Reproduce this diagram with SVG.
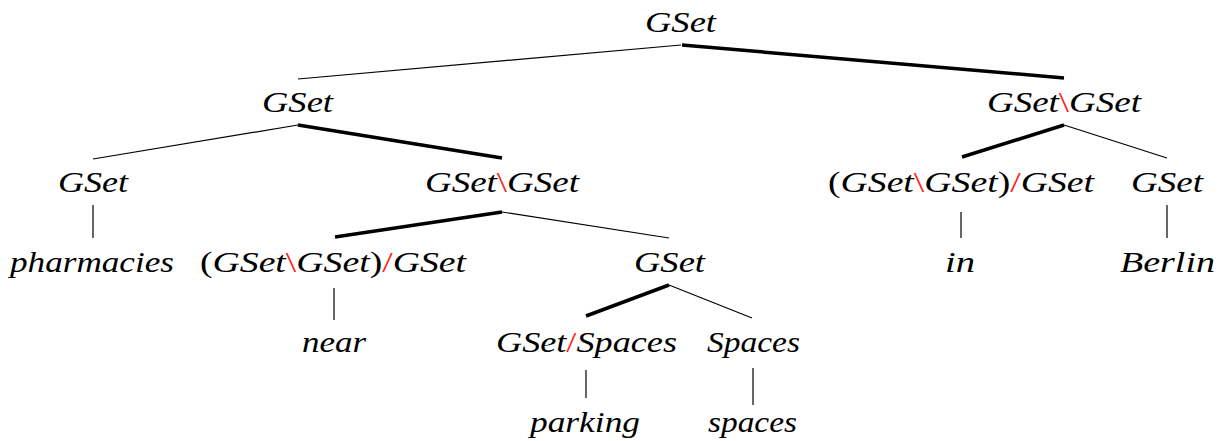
<svg xmlns="http://www.w3.org/2000/svg" width="1224" height="441" viewBox="0 0 1224 441">
  <style>
    .thin { stroke: #000; stroke-width: 1.2; fill: none; }
    .head { stroke: #000; stroke-width: 3.5; fill: none; }
    .up { font-style: normal; }
    .op { font-style: normal; fill: #ff2020; }
  </style>
  <rect width="1224" height="441" fill="#fff"/>

  <!-- tree edges: thick edges mark the head (functor) daughter -->
  <g id="edges">
    <line class="thin" x1="681" y1="45" x2="298" y2="79"/>
    <line class="head" x1="682" y1="45" x2="1064" y2="78"/>
    <line class="thin" x1="298" y1="125" x2="93" y2="159"/>
    <line class="head" x1="298" y1="125" x2="502" y2="158"/>
    <line class="head" x1="1064" y1="125" x2="962" y2="157"/>
    <line class="thin" x1="1064" y1="125" x2="1167" y2="158"/>
    <line class="thin" x1="93" y1="205" x2="93" y2="238"/>
    <line class="head" x1="502" y1="212" x2="335" y2="237"/>
    <line class="thin" x1="502" y1="212" x2="669" y2="238"/>
    <line class="thin" x1="961" y1="212" x2="961" y2="238"/>
    <line class="thin" x1="1167" y1="205" x2="1167" y2="238"/>
    <line class="thin" x1="334" y1="288" x2="334" y2="320"/>
    <line class="head" x1="669" y1="285" x2="586" y2="316"/>
    <line class="thin" x1="669" y1="285" x2="752" y2="318"/>
    <line class="thin" x1="586" y1="370" x2="586" y2="398"/>
    <line class="thin" x1="753" y1="368" x2="753" y2="405"/>
  </g>

  <!-- categories and words; x is the left edge, textLength fixes the width -->
  <g font-family="Liberation Serif, Times New Roman, serif" font-size="30" font-style="italic" fill="#000">
    <g id="n-root"><text x="645" y="32" textLength="71" lengthAdjust="spacingAndGlyphs">GSet</text></g>
    <g id="n-left"><text x="262" y="112" textLength="71" lengthAdjust="spacingAndGlyphs">GSet</text></g>
    <g id="n-right"><text x="987" y="112" textLength="154" lengthAdjust="spacingAndGlyphs">GSet<tspan class="op">&#92;</tspan>GSet</text></g>

    <g id="n-pharm-cat"><text x="58" y="192" textLength="70" lengthAdjust="spacingAndGlyphs">GSet</text></g>
    <g id="n-mod"><text x="425" y="192" textLength="154" lengthAdjust="spacingAndGlyphs">GSet<tspan class="op">&#92;</tspan>GSet</text></g>
    <g id="n-in-cat"><text x="828" y="192" textLength="266" lengthAdjust="spacingAndGlyphs"><tspan class="up">(</tspan>GSet<tspan class="op">&#92;</tspan>GSet<tspan class="up">)</tspan><tspan class="op">/</tspan>GSet</text></g>
    <g id="n-berlin-cat"><text x="1131" y="192" textLength="72" lengthAdjust="spacingAndGlyphs">GSet</text></g>

    <g id="n-pharm"><text x="10" y="272" textLength="164" lengthAdjust="spacingAndGlyphs">pharmacies</text></g>
    <g id="n-near-cat"><text x="200" y="272" textLength="266" lengthAdjust="spacingAndGlyphs"><tspan class="up">(</tspan>GSet<tspan class="op">&#92;</tspan>GSet<tspan class="up">)</tspan><tspan class="op">/</tspan>GSet</text></g>
    <g id="n-np"><text x="634" y="272" textLength="71" lengthAdjust="spacingAndGlyphs">GSet</text></g>
    <g id="n-in"><text x="945" y="272" textLength="30" lengthAdjust="spacingAndGlyphs">in</text></g>
    <g id="n-berlin"><text x="1120" y="272" textLength="95" lengthAdjust="spacingAndGlyphs">Berlin</text></g>

    <g id="n-near"><text x="302" y="352" textLength="64" lengthAdjust="spacingAndGlyphs">near</text></g>
    <g id="n-parking-cat"><text x="496" y="352" textLength="181" lengthAdjust="spacingAndGlyphs">GSet<tspan class="op">/</tspan>Spaces</text></g>
    <g id="n-spaces-cat"><text x="707" y="352" textLength="93" lengthAdjust="spacingAndGlyphs">Spaces</text></g>

    <g id="n-parking"><text x="530" y="432" textLength="110" lengthAdjust="spacingAndGlyphs">parking</text></g>
    <g id="n-spaces"><text x="708" y="432" textLength="89" lengthAdjust="spacingAndGlyphs">spaces</text></g>
  </g>
</svg>
